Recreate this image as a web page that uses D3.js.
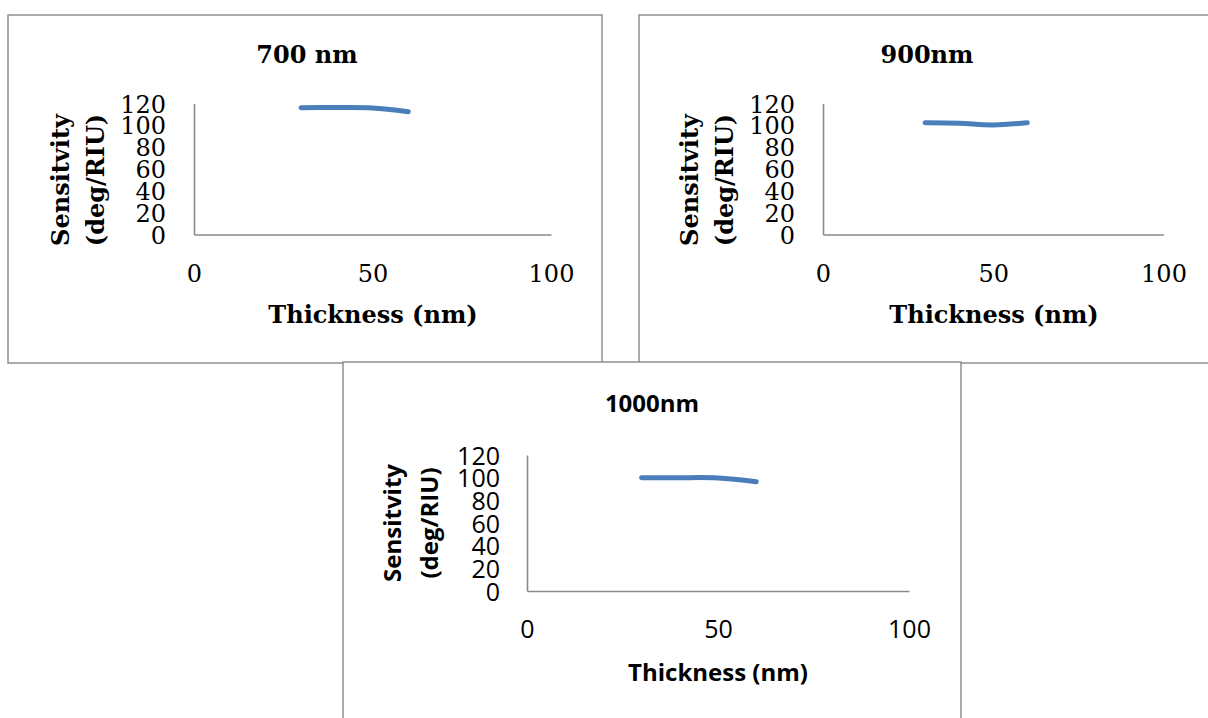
<!DOCTYPE html>
<html>
<head>
<meta charset="utf-8">
<script src="https://cdn.jsdelivr.net/npm/d3@7"></script>
<style>
  html, body { margin: 0; padding: 0; background: #fff; }
  svg { display: block; }
</style>
</head>
<body>
<svg id="chart" width="1208" height="718"></svg>
<script>
// ---- data ----
const thickness = [30, 40, 50, 60];
const sens700 = [116.2, 116.3, 115.9, 112.5];
const sens900 = [102.4, 101.9, 100.3, 102.4];
const sens1000 = [100.0, 100.0, 99.7, 96.4];
const xTicks = [0, 50, 100];
const yTicks = [0, 20, 40, 60, 80, 100, 120];
const titles = ["700 nm", "900nm", "1000nm"];
const xTitle = "Thickness (nm)";
const yTitleLines = ["Sensitvity", "(deg/RIU)"];

const svg = d3.select("#chart");
const lineColor = "#4a7ebb";
const axisColor = "#8a8a8a";
const borderColor = "#888888";

// panel frames
const frames = [
  {x: 8, y: 15, w: 594, h: 348},
  {x: 639, y: 15, w: 600, h: 348},
  {x: 343, y: 362, w: 618, h: 420}
];
frames.forEach(f => {
  svg.append("rect").attr("x", f.x).attr("y", f.y).attr("width", f.w).attr("height", f.h)
    .attr("fill", "#fff").attr("stroke", borderColor).attr("stroke-width", 1.4);
});

const panels = [
  {values: sens700, title: titles[0], font: "'DejaVu Serif', serif",
   x0: 194, x1: 551, y0: 234.5, y1: 103.5, tickFont: 24, titleFont: 24,
   titleX: 307, titleY: 63, xTitleX: 373, xTitleY: 323,
   yTitleC: 180, yLine1: 69, yLine2: 104, xPad: 30.5, yPad: 28},
  {values: sens900, title: titles[1], font: "'DejaVu Serif', serif",
   x0: 823, x1: 1163.5, y0: 234.5, y1: 103.5, tickFont: 24, titleFont: 24,
   titleX: 927, titleY: 63, xTitleX: 994, xTitleY: 323,
   yTitleC: 180, yLine1: 698, yLine2: 733, xPad: 30.5, yPad: 28},
  {values: sens1000, title: titles[2], font: "'Open Sans', sans-serif",
   x0: 527, x1: 909, y0: 591, y1: 455, tickFont: 25, titleFont: 24,
   titleX: 652, titleY: 412, xTitleX: 718, xTitleY: 681,
   yTitleC: 523, yLine1: 401, yLine2: 438, xPad: 29, yPad: 27}
];

panels.forEach(p => {
  const g = svg.append("g");
  const x = d3.scaleLinear().domain([0, 100]).range([p.x0, p.x1]);
  const y = d3.scaleLinear().domain([0, 120]).range([p.y0, p.y1]);

  const xa = g.append("g").attr("transform", `translate(0,${p.y0})`)
    .call(d3.axisBottom(x).tickValues(xTicks).tickSize(0).tickSizeOuter(0).tickPadding(p.xPad).tickFormat(d3.format("d")));
  const ya = g.append("g").attr("transform", `translate(${p.x0},0)`)
    .call(d3.axisLeft(y).tickValues(yTicks).tickSize(0).tickSizeOuter(0).tickPadding(p.yPad).tickFormat(d3.format("d")));
  [xa, ya].forEach(a => {
    a.select(".domain").attr("stroke", axisColor).attr("stroke-width", 1.6);
    a.selectAll("text").attr("font-family", p.font).attr("font-size", p.tickFont).attr("fill", "#000");
  });
  ya.selectAll("text").attr("dy", "0.36em");

  g.append("text").attr("x", p.titleX).attr("y", p.titleY).attr("text-anchor", "middle")
    .attr("font-family", p.font).attr("font-weight", "bold").attr("font-size", p.titleFont).text(p.title);
  g.append("text").attr("x", p.xTitleX).attr("y", p.xTitleY).attr("text-anchor", "middle")
    .attr("font-family", p.font).attr("font-weight", "bold").attr("font-size", p.titleFont).text(xTitle);
  [p.yLine1, p.yLine2].forEach((bx, i) => {
    g.append("text").attr("transform", `translate(${bx},${p.yTitleC}) rotate(-90)`)
      .attr("text-anchor", "middle").attr("font-family", p.font).attr("font-weight", "bold")
      .attr("font-size", p.titleFont).text(yTitleLines[i]);
  });

  const line = d3.line().x((d, i) => x(thickness[i])).y(d => y(d)).curve(d3.curveCatmullRom.alpha(0.5));
  g.append("path").datum(p.values).attr("d", line).attr("fill", "none")
    .attr("stroke", lineColor).attr("stroke-width", 5).attr("stroke-linecap", "round").attr("stroke-linejoin", "round");
});
</script>
</body>
</html>
